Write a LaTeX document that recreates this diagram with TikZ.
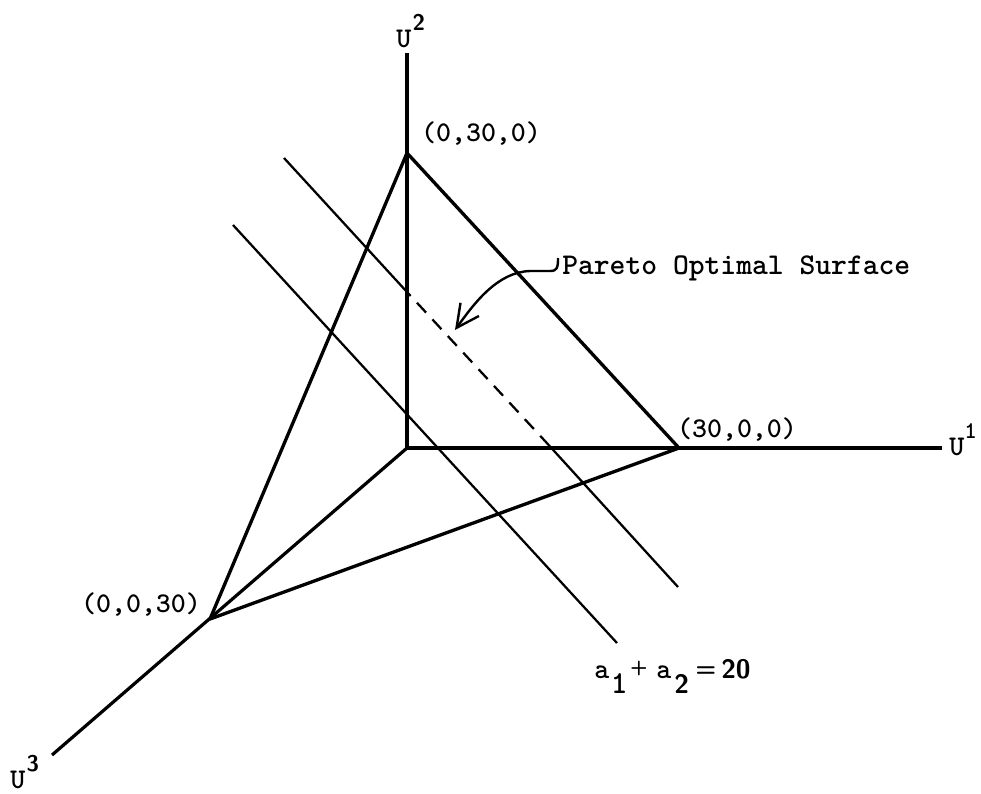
\documentclass[tikz,border=0pt]{standalone}
\usetikzlibrary{arrows.meta}
\newcommand\lbl{\fontsize{21.4}{25}\selectfont\ttfamily\bfseries}
\newcommand\plbl{\fontsize{22.6}{26}\selectfont\ttfamily\bfseries}
\newcommand\supsf{\fontsize{17}{20}\selectfont\sffamily}
\newcommand\suptt{\fontsize{18}{21}\selectfont\ttfamily\bfseries}
\newcommand\bigdig{\fontsize{20}{24}\selectfont\sffamily\bfseries}
\newcommand\bigtt{\fontsize{24}{28}\selectfont\ttfamily\bfseries}
\newcommand\putat[2]{\makebox[0pt][l]{\hspace*{#1}#2}}
\begin{document}
\begin{tikzpicture}[x=0.75pt,y=-0.75pt,
  axis/.style={line width=2.4pt},
  edge/.style={line width=2.5pt, line join=round},
  level/.style={line width=1.7pt},
  hidden/.style={line width=1.7pt, dash pattern=on 10pt off 7pt, dash phase=6pt},
  lab/.style={inner sep=0pt, font=\lbl},
  pointer/.style={line width=1.8pt, -{Straight Barb[length=17pt,width=17pt,line width=1.8pt]}}]
\useasboundingbox (0,0) rectangle (981,793);

% points
\coordinate (O) at (407,448);
\coordinate (A2) at (407,53);
\coordinate (A1) at (942,448);
\coordinate (A3) at (52,755);
\coordinate (V2) at (407,153);
\coordinate (V1) at (679,448);
\coordinate (V3) at (210,619);
\coordinate (L1a) at (284,158);
\coordinate (L1b) at (407,292);
\coordinate (L1c) at (545,441);
\coordinate (L1d) at (678,587);
\coordinate (L2a) at (233,225);
\coordinate (L2b) at (617,643);
\coordinate (tip) at (455,330);

% axes
\draw[axis] (O) -- (A2);
\draw[axis] (O) -- (A1);
\draw[axis] (O) -- (A3);

% triangle
\draw[edge] (V2) -- (V1) -- (V3) -- cycle;

% level lines
\draw[level] (L1a) -- (L1b);
\draw[hidden] (L1b) -- (L1c);
\draw[level] (L1c) -- (L1d);
\draw[level] (L2a) -- (L2b);

% labels
\node[lab, anchor=base west] (u2) at (396,47) {U\kern1pt\raisebox{12.75pt}{\supsf 2}};
\node[lab, anchor=base west] (u1) at (949,455) {U\kern0pt\raisebox{12.75pt}{\suptt 1}};
\node[lab, anchor=base west] (u3) at (10,788) {U\kern1pt\raisebox{12.75pt}{\supsf 3}};
\node[lab] (p2) at (481,134) {(0,30,0)};
\node[lab] (p1) at (737,430) {(30,0,0)};
\node[lab] (p3) at (141,605) {(0,0,30)};
\node[lab, font=\plbl, anchor=base west] (pareto) at (562,274) {Pareto Optimal Surface};
\node[inner sep=0pt, anchor=base west] (eq) at (594,678) {%
  \putat{0pt}{\lbl a}%
  \putat{12.5pt}{\raisebox{-11.25pt}{\bigtt 1}}%
  \putat{27pt}{\raisebox{3.5pt}{\fontsize{15}{18}\selectfont\sffamily\bfseries +}}%
  \putat{46.5pt}{\lbl a}%
  \putat{60pt}{\raisebox{-11.25pt}{\bigdig 2}}%
  \putat{76pt}{\raisebox{1.5pt}{\fontsize{18}{21}\selectfont\sffamily\bfseries =}}%
  \putat{95.25pt}{\bigdig 20}%
  \hspace*{118.5pt}};

% pointer
\draw[pointer] ([shift={(-4,-16)}]pareto.base west) .. controls +(0,10) and +(7,0) .. ++(-8,13)
   -- ++(-20,0) .. controls +(-32,1) and (475,302) .. (tip);
\end{tikzpicture}
\end{document}
